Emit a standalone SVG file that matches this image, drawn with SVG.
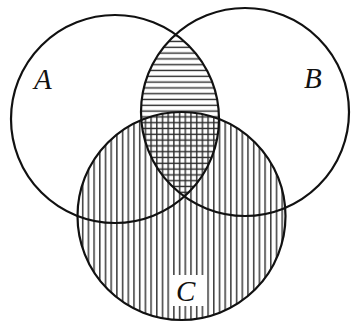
<svg xmlns="http://www.w3.org/2000/svg" width="351" height="326" viewBox="0 0 351 326">
  <style>
    .ring { fill: none; stroke: #111; stroke-width: 2.2; }
    .hatch { stroke: #2a2a2a; stroke-width: 1.4; }
    .lbl { font-family: "Liberation Serif", "Times New Roman", serif; font-style: italic; font-size: 29px; fill: #111; }
  </style>
  <defs>
    <pattern id="vpat" patternUnits="userSpaceOnUse" x="80" y="0" width="5.7" height="10">
      <line class="hatch" x1="2.7" y1="0" x2="2.7" y2="10"/>
    </pattern>
    <pattern id="hpat" patternUnits="userSpaceOnUse" x="0" y="44" width="10" height="5.8">
      <line class="hatch" x1="0" y1="3.3" x2="10" y2="3.3"/>
    </pattern>
    <clipPath id="clipA"><circle cx="115" cy="119" r="104"/></clipPath>
    <clipPath id="clipB"><circle cx="245" cy="112" r="104"/></clipPath>
    <clipPath id="clipC"><circle cx="181.5" cy="216" r="104"/></clipPath>
  </defs>
  <rect width="351" height="326" fill="#fff"/>
  <g id="hatching">
    <rect x="0" y="0" width="351" height="326" fill="url(#vpat)" clip-path="url(#clipC)"/>
    <g clip-path="url(#clipA)">
      <rect x="0" y="0" width="351" height="326" fill="url(#hpat)" clip-path="url(#clipB)"/>
    </g>
    <rect x="171" y="275" width="36" height="31" fill="#fff"/>
  </g>
  <g id="setA">
    <circle class="ring" cx="115" cy="119" r="104"/>
    <text class="lbl" x="34" y="89">A</text>
  </g>
  <g id="setB">
    <circle class="ring" cx="245" cy="112" r="104"/>
    <text class="lbl" x="304" y="88">B</text>
  </g>
  <g id="setC">
    <circle class="ring" cx="181.5" cy="216" r="104"/>
    <text class="lbl" x="176" y="301">C</text>
  </g>
  <g id="connectors"/>
</svg>
